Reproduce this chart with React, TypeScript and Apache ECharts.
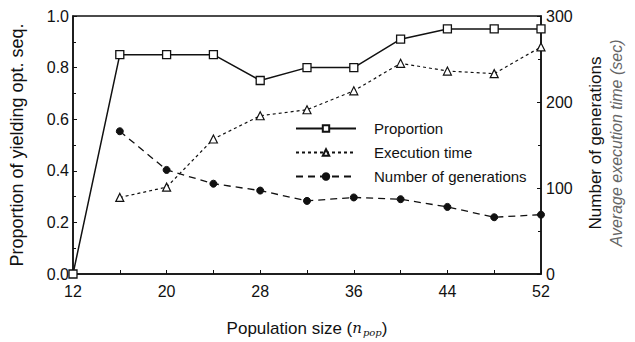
import React, { useEffect, useRef } from "react";
import * as echarts from "echarts";

const popSizes = [12, 16, 20, 24, 28, 32, 36, 40, 44, 48, 52];
const proportion = [0.0, 0.85, 0.85, 0.85, 0.75, 0.8, 0.8, 0.91, 0.95, 0.95, 0.95];
const execTimeX = [16, 20, 24, 28, 32, 36, 40, 44, 48, 52];
const execTime = [89, 101, 157, 184, 191, 213, 245, 236, 233, 264];
const generations = [166, 121, 105, 97, 85, 89, 87, 78, 66, 69];

const FONT = "'Liberation Sans', Arial, sans-serif";

export default function App() {
  const ref = useRef<HTMLDivElement>(null);
  useEffect(() => {
    if (!ref.current) return;
    const chart = echarts.init(ref.current, undefined, { renderer: "svg" });
    const axisLine = { show: true, lineStyle: { color: "#111", width: 1.5 } };
    chart.setOption({
      animation: false,
      backgroundColor: "#fff",
      textStyle: { fontFamily: FONT },
      grid: {
        left: 72,
        right: 94,
        top: 16,
        bottom: 68,
        show: true,
        borderColor: "#111",
        borderWidth: 1.5,
      },
      legend: {
        orient: "vertical",
        left: 290,
        top: 116,
        itemWidth: 60,
        itemHeight: 8,
        itemGap: 9,
        textStyle: { fontSize: 15, color: "#111", fontFamily: FONT, padding: [0, 0, 0, 13] },
        data: ["Proportion", "Execution time", "Number of generations"],
      },
      xAxis: {
        type: "value",
        min: 12,
        max: 52,
        interval: 4,
        axisLine,
        axisTick: { inside: true, length: 4, lineStyle: { color: "#111" } },
        splitLine: { show: false },
        axisLabel: {
          fontSize: 16,
          color: "#111",
          margin: 9,
          formatter: (v: number) => ((v - 12) % 8 === 0 ? String(v) : ""),
        },
        name: "{a|Population size (}{n|n}{s|pop}{a|)}",
        nameLocation: "middle",
        nameGap: 45,
        nameTextStyle: {
          rich: {
            a: { fontSize: 17, color: "#111", fontFamily: FONT },
            n: { fontSize: 15, color: "#111", fontFamily: "'DejaVu Serif', serif", fontStyle: "italic" },
            s: { fontSize: 10, color: "#111", fontFamily: "'DejaVu Serif', serif", fontStyle: "italic", padding: [8, 0, 0, 1] },
          },
        },
      },
      yAxis: [
        {
          type: "value",
          min: 0,
          max: 1,
          interval: 0.2,
          axisLine,
          axisTick: { inside: true, length: 4, lineStyle: { color: "#111" } },
          minorTick: { show: true, splitNumber: 2, length: 3, lineStyle: { color: "#111" } },
          splitLine: { show: false },
          axisLabel: { fontSize: 16, color: "#111", margin: 4, formatter: (v: number) => v.toFixed(1) },
          name: "Proportion of yielding opt. seq.",
          nameLocation: "middle",
          nameGap: 47,
          nameTextStyle: { fontSize: 18, color: "#111", fontFamily: FONT },
        },
        {
          type: "value",
          min: 0,
          max: 300,
          interval: 100,
          position: "right",
          axisLine,
          axisTick: { inside: true, length: 4, lineStyle: { color: "#111" } },
          minorTick: { show: true, splitNumber: 2, length: 3, lineStyle: { color: "#111" } },
          splitLine: { show: false },
          axisLabel: { fontSize: 16, color: "#111", margin: 5 },
        },
      ],
      graphic: [
        {
          type: "text",
          x: 595,
          y: 143,
          rotation: Math.PI / 2,
          style: {
            text: "Number of generations",
            fontSize: 17,
            fontFamily: FONT,
            fill: "#111",
            align: "center",
            verticalAlign: "middle",
          },
        },
        {
          type: "text",
          x: 616,
          y: 143,
          rotation: Math.PI / 2,
          style: {
            text: "Average execution time (sec)",
            fontSize: 16,
            fontStyle: "italic",
            fontFamily: FONT,
            fill: "#666",
            align: "center",
            verticalAlign: "middle",
          },
        },
      ],
      series: [
        {
          name: "Proportion",
          type: "line",
          yAxisIndex: 0,
          data: popSizes.map((x, i) => [x, proportion[i]]),
          symbol: "rect",
          symbolSize: 8,
          lineStyle: { color: "#111", width: 1.5 },
          itemStyle: { color: "#fff", borderColor: "#111", borderWidth: 1.3 },
        },
        {
          name: "Execution time",
          type: "line",
          yAxisIndex: 1,
          data: execTimeX.map((x, i) => [x, execTime[i]]),
          symbol: "triangle",
          symbolSize: 8,
          lineStyle: { color: "#111", width: 1.2, type: [3, 3] },
          itemStyle: { color: "#fff", borderColor: "#111", borderWidth: 1.2 },
        },
        {
          name: "Number of generations",
          type: "line",
          yAxisIndex: 1,
          data: execTimeX.map((x, i) => [x, generations[i]]),
          symbol: "circle",
          symbolSize: 7,
          lineStyle: { color: "#111", width: 1.3, type: [7, 5] },
          itemStyle: { color: "#111", borderColor: "#111", borderWidth: 1 },
        },
      ],
    });
    return () => chart.dispose();
  }, []);
  return <div ref={ref} style={{ width: 635, height: 342, position: "absolute", left: 0, top: 0 }} />;
}
